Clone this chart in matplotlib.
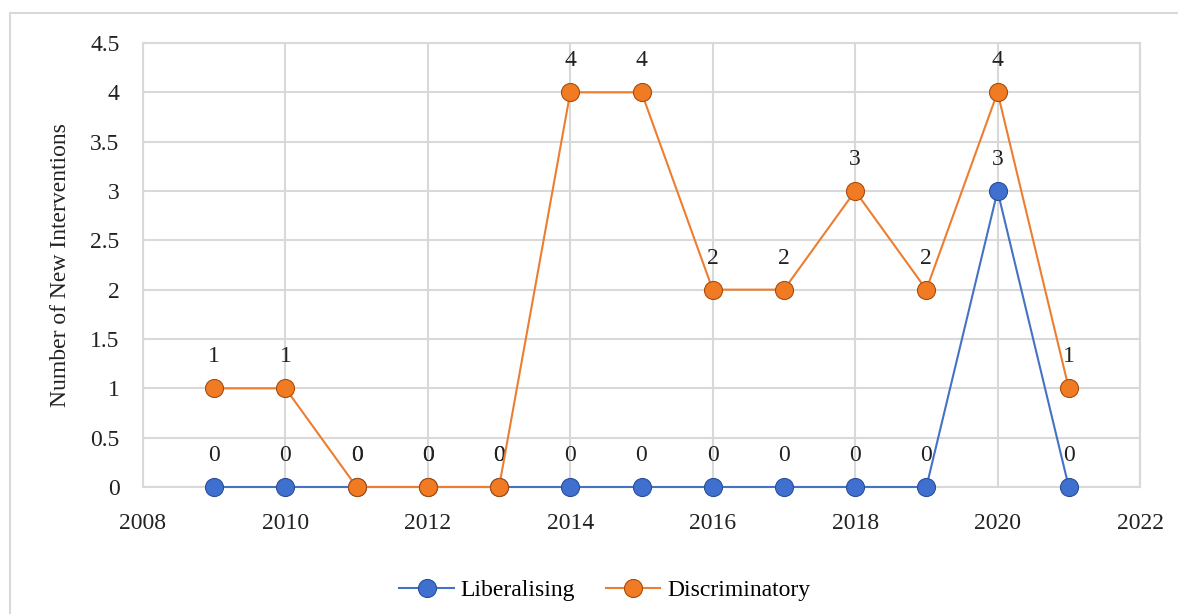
import numpy as np
import matplotlib.pyplot as plt
from matplotlib.patches import Rectangle

plt.rcParams['font.family'] = ['Liberation Serif', 'DejaVu Serif']

# Data
years = [2009, 2010, 2011, 2012, 2013, 2014, 2015, 2016, 2017, 2018, 2019, 2020, 2021]
liberalising = [0, 0, 0, 0, 0, 0, 0, 0, 0, 0, 0, 3, 0]
discriminatory = [1, 1, 0, 0, 0, 4, 4, 2, 2, 3, 2, 4, 1]

blue = '#4472C4'
orange = '#ED7D31'
grid_col = '#d9d9d9'
fs = 17

fig = plt.figure(figsize=(11.78, 6.14), dpi=100)
ax = fig.add_axes([143 / 1178, 127 / 614, 997 / 1178, 444 / 614])

# outer chart border
fig.patches.append(Rectangle((10 / 1178, -0.1), 1.2, 0.1 + (614 - 13) / 614,
                             transform=fig.transFigure, fill=False,
                             edgecolor='#d9d9d9', linewidth=1.5))

ax.plot(years, liberalising, color=blue, linewidth=1.5, marker='o', markersize=13,
        markerfacecolor='#3f6fcf', markeredgecolor='#2a4f96', markeredgewidth=0.8,
        label='Liberalising', zorder=3, clip_on=False)
ax.plot(years, discriminatory, color=orange, linewidth=1.5, marker='o', markersize=13,
        markerfacecolor='#f07b22', markeredgecolor='#a84c10', markeredgewidth=0.8,
        label='Discriminatory', zorder=4, clip_on=False)

# data labels
for x, y in zip(years, liberalising):
    ax.annotate(str(y), (x, y), xytext=(0, 15), textcoords='offset points',
                ha='center', va='bottom', fontsize=fs, color='#222222')
for x, y in zip(years, discriminatory):
    ax.annotate(str(y), (x, y), xytext=(0, 15), textcoords='offset points',
                ha='center', va='bottom', fontsize=fs, color='#222222')

ax.set_xlim(2008, 2022)
ax.set_ylim(0, 4.5)
ax.set_xticks(np.arange(2008, 2023, 2))
ax.set_yticks(np.arange(0, 4.51, 0.5))
ax.set_yticklabels(['0', '0.5', '1', '1.5', '2', '2.5', '3', '3.5', '4', '4.5'])
ax.tick_params(axis='both', length=0, labelsize=fs, colors='#222222')
ax.tick_params(axis='x', pad=19)
ax.tick_params(axis='y', pad=17)
ax.grid(True, color=grid_col, linewidth=1.5)
ax.set_axisbelow(True)
for s in ax.spines.values():
    s.set_color(grid_col)
    s.set_linewidth(1.5)

ax.set_ylabel('Number of New Interventions', fontsize=fs, color='#222222', labelpad=14)

ax.legend(loc='center', bbox_to_anchor=((605 - 143) / 997, -103 / 444), ncol=2,
          frameon=False, fontsize=fs, handlelength=2.3, columnspacing=1.3,
          handletextpad=0.3)

fig.savefig('out.png', dpi=100)
